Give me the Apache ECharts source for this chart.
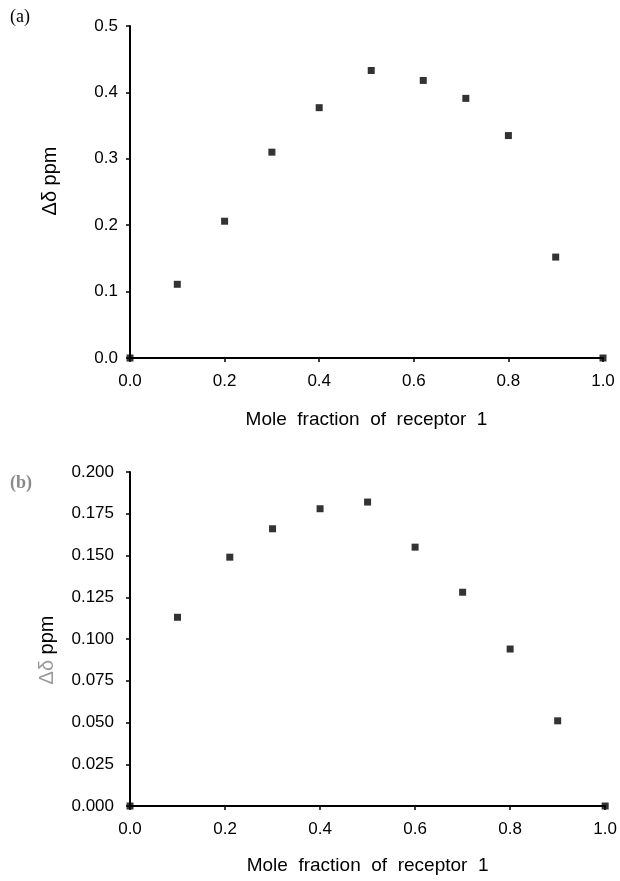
<!DOCTYPE html>
<html>
<head>
<meta charset="utf-8">
<script src="https://cdn.jsdelivr.net/npm/echarts@6/dist/echarts.min.js"></script>
<style>
  html, body { margin: 0; padding: 0; background: #fff; }
  #main { width: 620px; height: 881px; }
</style>
</head>
<body>
<div id="main"></div>
<script>
// mole fraction of receptor 1 (x) vs chemical shift change (y)
var xA = [0.0, 0.1, 0.2, 0.3, 0.4, 0.51, 0.62, 0.71, 0.8, 0.9, 1.0];
var yA = [0.0, 0.111, 0.206, 0.310, 0.377, 0.433, 0.418, 0.391, 0.335, 0.152, 0.0];
var xB = [0.0, 0.1, 0.21, 0.3, 0.4, 0.5, 0.6, 0.7, 0.8, 0.9, 1.0];
var yB = [0.0, 0.113, 0.149, 0.166, 0.178, 0.182, 0.155, 0.128, 0.094, 0.051, 0.0];

var xTitle = 'Mole  fraction  of  receptor  1';
var yTitle = 'Δδ ppm';

var myChart = echarts.init(document.getElementById('main'));

var font = 'Liberation Sans, Arial, sans-serif';
var axisLine = { lineStyle: { color: '#000', width: 2 } };
var axisTick = { length: 4, lineStyle: { color: '#000', width: 1.5 } };

function xAxis(idx, gap) {
  return {
    type: 'value', gridIndex: idx, min: 0, max: 1, interval: 0.2,
    name: xTitle, nameLocation: 'middle', nameGap: gap,
    nameTextStyle: { fontFamily: font, fontSize: 19, color: '#000' },
    axisLine: axisLine, axisTick: axisTick, splitLine: { show: false },
    axisLabel: { fontFamily: font, fontSize: 17, color: '#000', margin: 15,
      formatter: function (v) { return v.toFixed(1); } }
  };
}

myChart.setOption({
  backgroundColor: '#fff',
  animation: false,
  grid: [
    { left: 130, top: 26, width: 473, height: 332 },
    { left: 130, top: 472, width: 479, height: 334 }
  ],
  xAxis: [xAxis(0, 52), xAxis(1, 50)],
  yAxis: [
    {
      type: 'value', gridIndex: 0, min: 0, max: 0.5, interval: 0.1,
      name: yTitle, nameLocation: 'middle', nameGap: 70,
      nameTextStyle: { fontFamily: font, fontSize: 20, color: '#000', padding: [0, 0, 0, 22] },
      axisLine: axisLine, axisTick: axisTick, splitLine: { show: false },
      axisLabel: { fontFamily: font, fontSize: 17, color: '#000', margin: 12,
        formatter: function (v) { return v.toFixed(1); } }
    },
    {
      type: 'value', gridIndex: 1, min: 0, max: 0.2, interval: 0.025,
      name: '{g|Δδ} ppm', nameLocation: 'middle', nameGap: 73,
      nameTextStyle: { fontFamily: font, fontSize: 20, color: '#000', padding: [0, 22, 0, 0],
        rich: { g: { fontFamily: font, fontSize: 20, color: '#9a9a9a' } } },
      axisLine: axisLine, axisTick: axisTick, splitLine: { show: false },
      axisLabel: { fontFamily: font, fontSize: 17, color: '#000', margin: 16,
        formatter: function (v) { return v.toFixed(3); } }
    }
  ],
  graphic: [
    { type: 'text', left: 10, top: 8,
      style: { text: '(a)', font: '18px "Liberation Serif", serif', fill: '#000' } },
    { type: 'text', left: 10, top: 474,
      style: { text: '(b)', font: 'bold 18px "Liberation Serif", serif', fill: '#8a8a8a' } }
  ],
  series: [
    {
      type: 'scatter', xAxisIndex: 0, yAxisIndex: 0,
      symbol: 'rect', symbolSize: 7, clip: false,
      itemStyle: { color: '#000' },
      data: xA.map(function (x, i) { return [x, yA[i]]; })
    },
    {
      type: 'scatter', xAxisIndex: 1, yAxisIndex: 1,
      symbol: 'rect', symbolSize: 7, clip: false,
      itemStyle: { color: '#000' },
      data: xB.map(function (x, i) { return [x, yB[i]]; })
    }
  ]
});
</script>
</body>
</html>
